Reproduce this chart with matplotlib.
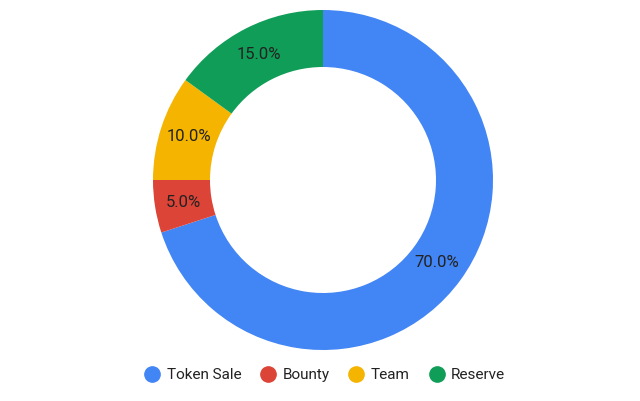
import matplotlib
matplotlib.use("Agg")
import matplotlib.pyplot as plt
from matplotlib.lines import Line2D

labels = ["Token Sale", "Bounty", "Team", "Reserve"]
values = [70.0, 5.0, 10.0, 15.0]
colors = ["#4285F4", "#DB4437", "#F4B400", "#0F9D58"]

plt.rcParams['font.family'] = ['Roboto', 'DejaVu Sans']
fig = plt.figure(figsize=(6.4, 4.01), dpi=100)
W, H = 640, 401
cx, cy, r = 323, 180, 170
ax = fig.add_axes([(cx - r) / W, (H - cy - r) / H, 2 * r / W, 2 * r / H])
wedges, texts, autotexts = ax.pie(values, colors=colors, startangle=90, counterclock=False,
       autopct='%1.1f%%', pctdistance=0.83,
       wedgeprops=dict(width=57 / 170, edgecolor='white', linewidth=0),
       textprops=dict(fontsize=12, color='#222222'))
ax.set_xlim(-1, 1)
ax.set_ylim(-1, 1)
ax.set_aspect('equal')
ax.axis('off')

handles = [Line2D([], [], marker='o', linestyle='', markersize=11, color=c) for c in colors]
fig.legend(handles, labels, loc='center', bbox_to_anchor=(323 / W, 1 - 375 / H), ncol=4,
           frameon=False, fontsize=11, handletextpad=0.2, columnspacing=1.0,
           handlelength=1.5, labelcolor='#222222')
fig.savefig("out.png", dpi=100)
